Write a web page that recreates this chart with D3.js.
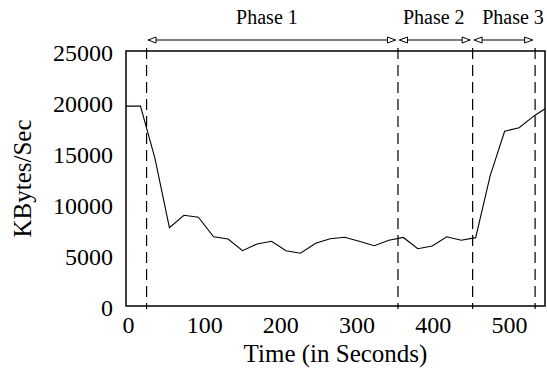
<!DOCTYPE html>
<html lang="en">
<head>
  <meta charset="utf-8">
  <script src="https://d3js.org/d3.v7.min.js"></script>
  <title>KBytes/Sec over time</title>
  <style>
    body { margin: 0; background: #fff; }
    svg text { font-family: "Liberation Serif", "DejaVu Serif", serif; fill: #000; }
    .axis text { font-size: 24px; }
    .axis path, .axis line { display: none; }
    .title { font-size: 25px; }
    .phase { font-size: 20px; }
  </style>
</head>
<body>
<svg width="547" height="368" id="chart"></svg>
<script>
// sample times (s) and throughput (KBytes/Sec)
var times = [0, 19, 38, 57, 76, 95, 115, 134, 153, 172, 191, 210, 229, 249, 268,
             287, 306, 326, 345, 364, 383, 402, 421, 440, 459, 478, 497, 516, 536, 550];
var rates = [19600, 19600, 14480, 7680, 8890, 8700, 6790, 6570, 5420, 6080, 6340, 5420, 5170, 6150, 6600,
             6740, 6340, 5910, 6440, 6720, 5620, 5880, 6790, 6440, 6700, 12750, 17130, 17480, 18660, 19340];

// phase boundaries (s) and the labels above them
var phaseBounds = [27, 357, 455, 537];
var phaseNames = ["Phase 1", "Phase 2", "Phase 3"];
var phaseLabelAt = [185, 404, 508];

var xTicks = [0, 100, 200, 300, 400, 500];
var yTicks = [0, 5000, 10000, 15000, 20000, 25000];

var margin = {top: 51, right: 2, bottom: 62, left: 126};
var width = 547 - margin.left - margin.right,
    height = 368 - margin.top - margin.bottom;

var svg = d3.select("#chart");
var g = svg.append("g").attr("transform", "translate(" + margin.left + "," + margin.top + ")");

var x = d3.scaleLinear().domain([0, 550]).range([0, width]);
var y = d3.scaleLinear().domain([0, 25000]).range([height, 0]);

g.append("defs").append("clipPath").attr("id", "clip")
  .append("rect").attr("width", width).attr("height", height);

// axes (labels only, frame drawn separately)
g.append("g")
  .attr("class", "axis")
  .attr("transform", "translate(0," + height + ")")
  .call(d3.axisBottom(x).tickValues(xTicks).tickSize(0).tickPadding(10).tickFormat(d3.format("d")))
  .selectAll("text").attr("dx", 2);

g.append("g")
  .attr("class", "axis")
  .call(d3.axisLeft(y).tickValues(yTicks).tickSize(0).tickPadding(13).tickFormat(d3.format("d")))
  .selectAll("text").attr("dy", "0.4em");

// phase boundaries
g.selectAll(".bound")
  .data(phaseBounds)
  .enter().append("line")
    .attr("class", "bound")
    .attr("x1", function(d) { return x(d); })
    .attr("x2", function(d) { return x(d); })
    .attr("y1", -3)
    .attr("y2", height + 3)
    .attr("stroke", "#000")
    .attr("stroke-width", 1.2)
    .attr("stroke-dasharray", "11,6");

// data line
var line = d3.line()
  .x(function(d, i) { return x(times[i]); })
  .y(function(d) { return y(d); });

g.append("path")
  .datum(rates)
  .attr("clip-path", "url(#clip)")
  .attr("fill", "none")
  .attr("stroke", "#000")
  .attr("stroke-width", 1.1)
  .attr("d", line);

// frame
g.append("rect")
  .attr("width", width)
  .attr("height", height)
  .attr("fill", "none")
  .attr("stroke", "#000")
  .attr("stroke-width", 1.5);

// phase arrows
var arrowY = -11;
function head(tip, dir) {
  // open triangle pointing in dir (+1 right, -1 left)
  var len = 8, half = 3;
  return "M" + tip + "," + arrowY +
    "L" + (tip - dir * len) + "," + (arrowY - half) +
    "L" + (tip - dir * len) + "," + (arrowY + half) + "Z";
}

phaseNames.forEach(function(name, i) {
  var x0 = x(phaseBounds[i]) + 1.5,
      x1 = x(phaseBounds[i + 1]) - 2.5;
  g.append("line")
    .attr("x1", x0).attr("x2", x1)
    .attr("y1", arrowY).attr("y2", arrowY)
    .attr("stroke", "#000").attr("stroke-width", 1);
  g.append("path").attr("d", head(x0, -1))
    .attr("fill", "#fff").attr("stroke", "#000").attr("stroke-width", 1);
  g.append("path").attr("d", head(x1, 1))
    .attr("fill", "#fff").attr("stroke", "#000").attr("stroke-width", 1);
  g.append("text")
    .attr("class", "phase")
    .attr("x", x(phaseLabelAt[i]))
    .attr("y", -27)
    .attr("text-anchor", "middle")
    .text(name);
});

// axis titles
g.append("text")
  .attr("class", "title")
  .attr("x", width / 2)
  .attr("y", height + 56)
  .attr("text-anchor", "middle")
  .text("Time (in Seconds)");

g.append("text")
  .attr("class", "title")
  .attr("transform", "rotate(-90)")
  .attr("x", -height / 2)
  .attr("y", -95)
  .attr("text-anchor", "middle")
  .text("KBytes/Sec");
</script>
</body>
</html>
